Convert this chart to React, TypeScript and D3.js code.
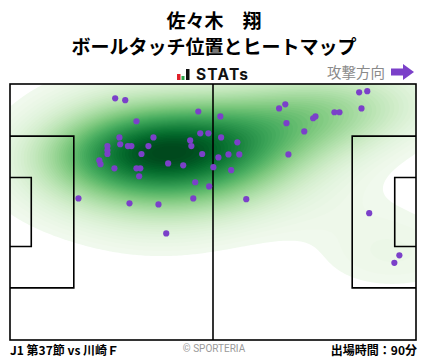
import { useEffect, useRef } from 'react';
import * as d3 from 'd3';

// ball touch positions in metres (x: 0 = own goal line, y: 0 = top touchline)
const TOUCH_X = [
  27.2, 29.8, 32.7, 48.7, 28.3, 37.1, 28.5, 30.5, 31.4, 35.8, 25.2, 25.2, 25.2, 23.1, 23.4,
  34.0, 27.0, 32.7, 33.7, 33.4, 40.9, 44.8, 46.6, 46.9, 49.2, 51.3, 49.7, 53.9, 52.6, 47.9,
  51.5, 47.4, 17.7, 30.9, 38.4, 40.4, 54.4, 54.6, 58.8, 56.5, 59.3, 57.2, 61.1, 69.6, 71.2,
  71.5, 76.1, 78.4, 79.0, 83.9, 85.2, 90.3, 92.4, 90.9, 72.0, 92.9, 100.7, 99.4,
];
const TOUCH_Y = [
  3.8, 4.3, 9.9, 7.3, 14.2, 14.2, 16.0, 16.5, 16.5, 16.5, 16.5, 17.6, 18.6, 20.3, 21.3,
  18.6, 22.4, 22.4, 22.4, 24.5, 21.1, 21.6, 15.0, 16.5, 13.1, 13.1, 18.6, 19.5, 22.1, 26.1,
  27.2, 30.4, 30.4, 31.7, 32.0, 39.7, 8.6, 14.2, 15.5, 18.7, 18.7, 22.9, 30.6, 6.5, 5.4,
  10.4, 12.6, 9.1, 8.6, 7.5, 7.5, 2.2, 1.9, 6.5, 18.7, 34.3, 45.5, 47.5,
];

const TITLE = '佐々木\u3000翔';
const SUBTITLE = 'ボールタッチ位置とヒートマップ';
const MATCH = 'J1 第37節 vs 川崎Ｆ';
const MINUTES = '出場時間：90分';

const W = 428;
const H = 359;
const PITCH = { left: 10, right: 416, top: 84, bottom: 340 };
const LEN = 105;
const WID = 68;
const CELL = 2;
const BW_ADJUST = 1.45;
const MASS = 0.975; // share of the density mass inside the palest contour
const FONT = '"Noto Sans CJK JP", "Noto Sans", sans-serif';

export default function App() {
  const svgRef = useRef<SVGSVGElement>(null);

  useEffect(() => {
    if (!svgRef.current) return;
    const svg = d3.select(svgRef.current);
    svg.selectAll('*').remove();

    const x = d3.scaleLinear().domain([0, LEN]).range([PITCH.left, PITCH.right]);
    const y = d3.scaleLinear().domain([0, WID]).range([PITCH.top, PITCH.bottom]);
    const pts: [number, number][] = TOUCH_X.map((v, i) => [v, TOUCH_Y[i]]);

    svg.append('rect').attr('width', W).attr('height', H).attr('fill', '#fff');

    // header
    svg.append('text')
      .attr('x', W / 2).attr('y', 28)
      .attr('text-anchor', 'middle')
      .attr('font-family', FONT).attr('font-weight', 700).attr('font-size', 19)
      .text(TITLE);
    svg.append('text')
      .attr('x', W / 2).attr('y', 54)
      .attr('text-anchor', 'middle')
      .attr('font-family', FONT).attr('font-weight', 700).attr('font-size', 19)
      .text(SUBTITLE);

    // STATs logo
    const logo = svg.append('g');
    logo.append('rect').attr('x', 177).attr('y', 74).attr('width', 3.5).attr('height', 6).attr('fill', '#e0202a');
    logo.append('rect').attr('x', 181.5).attr('y', 76).attr('width', 3).attr('height', 4).attr('fill', '#2aa84a');
    logo.append('rect').attr('x', 186).attr('y', 69).attr('width', 3.5).attr('height', 11).attr('fill', '#111');
    logo.append('text')
      .attr('x', 196).attr('y', 80)
      .attr('font-family', 'Inter, "Noto Sans", sans-serif').attr('font-weight', 700).attr('font-size', 15.5)
      .attr('letter-spacing', 1.2)
      .attr('fill', '#111')
      .text('STATs');

    // attack direction
    svg.append('text')
      .attr('x', 385).attr('y', 78)
      .attr('text-anchor', 'end')
      .attr('font-family', FONT).attr('font-size', 14.5)
      .attr('fill', '#8a8a8a')
      .text('攻撃方向');
    svg.append('path')
      .attr('d', 'M391,68.5 L403,68.5 L403,64 L414,72 L403,80 L403,75.5 L391,75.5 Z')
      .attr('fill', '#7b40c9');

    // heatmap: gaussian KDE (scott bandwidth, full covariance), iso-proportion floor
    const px = pts.map((d) => x(d[0]));
    const py = pts.map((d) => y(d[1]));
    const n = pts.length;
    const mx = d3.mean(px)!;
    const my = d3.mean(py)!;
    let sxx = 0, syy = 0, sxy = 0;
    for (let i = 0; i < n; i++) {
      sxx += (px[i] - mx) ** 2;
      syy += (py[i] - my) ** 2;
      sxy += (px[i] - mx) * (py[i] - my);
    }
    const f2 = Math.pow(n, -1 / 3) * BW_ADJUST * BW_ADJUST;
    const a = (sxx / (n - 1)) * f2;
    const c = (syy / (n - 1)) * f2;
    const b = (sxy / (n - 1)) * f2;
    const det = a * c - b * b;
    const ia = c / det, ic = a / det, ib = -b / det;

    const M = 4;
    const x0 = PITCH.left - M * CELL;
    const y0 = PITCH.top - M * CELL;
    const nx = Math.ceil((PITCH.right - PITCH.left) / CELL) + 2 * M;
    const ny = Math.ceil((PITCH.bottom - PITCH.top) / CELL) + 2 * M;
    const grid = new Float64Array(nx * ny);
    for (let j = 0; j < ny; j++) {
      const gy = y0 + (j + 0.5) * CELL;
      for (let i = 0; i < nx; i++) {
        const gx = x0 + (i + 0.5) * CELL;
        let s = 0;
        for (let k = 0; k < n; k++) {
          const dx = gx - px[k];
          const dy = gy - py[k];
          s += Math.exp(-0.5 * (ia * dx * dx + 2 * ib * dx * dy + ic * dy * dy));
        }
        grid[j * nx + i] = s;
      }
    }
    const sorted = Array.from(grid).sort((p, q) => q - p);
    const total = d3.sum(sorted);
    let acc = 0;
    let lo = sorted[sorted.length - 1];
    for (const v of sorted) {
      acc += v;
      if (acc / total >= MASS) { lo = v; break; }
    }
    const maxV = sorted[0];
    const N = 60;
    const levels = d3.range(N).map((i) => lo + ((maxV - lo) * i) / N);
    const color = (v: number) => d3.interpolateGreens(0.04 + 0.96 * ((v - lo) / (maxV - lo)));
    const contours = d3.contours().size([nx, ny]).thresholds(levels)(Array.from(grid));

    svg.append('clipPath').attr('id', 'pitch-clip')
      .append('rect')
      .attr('x', PITCH.left).attr('y', PITCH.top)
      .attr('width', PITCH.right - PITCH.left).attr('height', PITCH.bottom - PITCH.top);

    const heat = svg.append('g').attr('clip-path', 'url(#pitch-clip)')
      .append('g').attr('transform', `translate(${x0},${y0}) scale(${CELL})`);
    heat.selectAll('path')
      .data(contours)
      .join('path')
      .attr('d', d3.geoPath())
      .attr('fill', (d, i) => color(i < N - 1 ? (d.value + levels[i + 1]) / 2 : d.value));

    // pitch lines
    const lines = svg.append('g')
      .attr('fill', 'none').attr('stroke', '#000').attr('stroke-width', 1.6);
    lines.append('rect')
      .attr('x', x(0)).attr('y', y(0))
      .attr('width', x(LEN) - x(0)).attr('height', y(WID) - y(0));
    lines.append('line')
      .attr('x1', x(LEN / 2)).attr('x2', x(LEN / 2))
      .attr('y1', y(0)).attr('y2', y(WID));
    const boxes = [
      { d: 16.5, w: 40.32 },
      { d: 5.5, w: 18.32 },
    ];
    boxes.forEach((bx) => {
      const top = (WID - bx.w) / 2;
      lines.append('path')
        .attr('d', `M${x(0)},${y(top)} H${x(bx.d)} V${y(top + bx.w)} H${x(0)}`);
      lines.append('path')
        .attr('d', `M${x(LEN)},${y(top)} H${x(LEN - bx.d)} V${y(top + bx.w)} H${x(LEN)}`);
    });

    // touches
    svg.append('g')
      .selectAll('circle')
      .data(pts)
      .join('circle')
      .attr('cx', (d) => x(d[0]))
      .attr('cy', (d) => y(d[1]))
      .attr('r', 3.1)
      .attr('fill', '#7b40c9');

    // footer
    svg.append('text')
      .attr('x', 10).attr('y', 355)
      .attr('font-family', FONT).attr('font-weight', 700).attr('font-size', 12)
      .text(MATCH);
    svg.append('text')
      .attr('x', W / 2).attr('y', 352)
      .attr('text-anchor', 'middle')
      .attr('font-family', 'Roboto, "Noto Sans", sans-serif').attr('font-size', 10)
      .attr('fill', '#9a9a9a')
      .text('© SPORTERIA');
    svg.append('text')
      .attr('x', 417).attr('y', 355)
      .attr('text-anchor', 'end')
      .attr('font-family', FONT).attr('font-weight', 700).attr('font-size', 12)
      .text(MINUTES);
  }, []);

  return (
    <div style={{ position: 'fixed', left: 0, top: 0, width: W, height: H }}>
      <svg ref={svgRef} width={W} height={H} style={{ display: 'block' }} />
    </div>
  );
}
